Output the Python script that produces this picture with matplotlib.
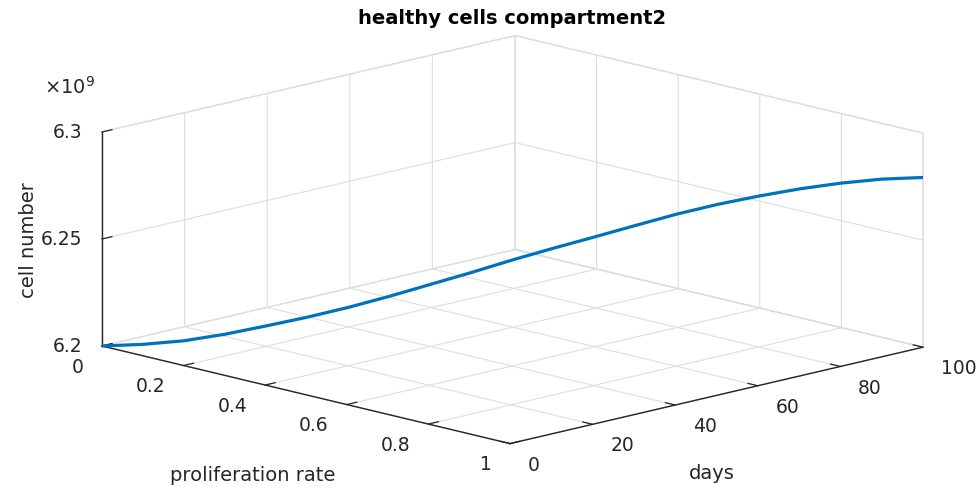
import numpy as np
import matplotlib
matplotlib.use('Agg')
import matplotlib.pyplot as plt
from matplotlib.ticker import FuncFormatter, FixedLocator
from matplotlib.transforms import offset_copy
from mpl_toolkits.mplot3d import proj3d

# ---- data ----
days = [0, 5, 10, 15, 20, 25, 30, 35, 40, 45, 50, 55, 60, 65, 70, 75, 80, 85, 90, 95, 100]
prolif = [0.0, 0.05, 0.1, 0.15, 0.2, 0.25, 0.3, 0.35, 0.4, 0.45, 0.5,
          0.55, 0.6, 0.65, 0.7, 0.75, 0.8, 0.85, 0.9, 0.95, 1.0]
cells = [6.2000e9, 6.2008e9, 6.2025e9, 6.2056e9, 6.2095e9, 6.2136e9, 6.2182e9,
         6.2234e9, 6.2290e9, 6.2346e9, 6.2405e9, 6.2460e9, 6.2513e9, 6.2567e9,
         6.2620e9, 6.2666e9, 6.2705e9, 6.2739e9, 6.2766e9, 6.2785e9, 6.2793e9]

x_ticks = [0, 0.2, 0.4, 0.6, 0.8, 1]
y_ticks = [0, 20, 40, 60, 80, 100]
z_ticks = [6.2e9, 6.25e9, 6.3e9]
x_lim = (0, 1)
y_lim = (0, 100)
z_lim = (6.2e9, 6.3e9)

title = 'healthy cells compartment2'
xlabel = 'proliferation rate'
ylabel = 'days'
zlabel = 'cell number'

# ---- style ----
W, H = 979, 489
AX_COL = '#262626'
GRID_COL = '#dedede'
LINE_COL = '#0072BD'
plt.rcParams['font.family'] = ['DejaVu Sans']
plt.rcParams['grid.color'] = GRID_COL
plt.rcParams['grid.linewidth'] = 0.8

fig = plt.figure(figsize=(W / 100, H / 100), dpi=100)
ax = fig.add_axes([0, -0.5, 1, 2], projection='3d', proj_type='ortho')
elev = np.degrees(np.arcsin(194 / 821))
AZIM = -44.65
ax.view_init(elev=elev, azim=AZIM)
aspect = (1, 1, 0.3794)
ax.set_box_aspect(aspect)
ax.set_xlim(*x_lim)
ax.set_ylim(*y_lim)
ax.set_zlim(*z_lim)

ax.plot(prolif, days, cells, color=LINE_COL, linewidth=2.3,
        solid_capstyle='butt', solid_joinstyle='round')

ax.xaxis.set_major_locator(FixedLocator(x_ticks))
ax.yaxis.set_major_locator(FixedLocator(y_ticks))
ax.zaxis.set_major_locator(FixedLocator(z_ticks))
ax.xaxis.set_major_formatter(FuncFormatter(lambda v, _: f'{v:g}'))
ax.yaxis.set_major_formatter(FuncFormatter(lambda v, _: f'{v:g}'))
ax.zaxis.set_major_formatter(FuncFormatter(lambda v, _: f'{v / 1e9:g}'))

for axis in (ax.xaxis, ax.yaxis, ax.zaxis):
    axis.set_pane_color((1, 1, 1, 1))
    axis.pane.set_edgecolor(GRID_COL)
    axis.line.set_color(AX_COL)
    axis.line.set_linewidth(1.0)
    axis._axinfo['grid']['color'] = GRID_COL
    axis._axinfo['grid']['linewidth'] = 0.8
    axis._axinfo['tick']['inward_factor'] = 0.0
    axis._axinfo['tick']['outward_factor'] = 0.3
    axis._axinfo['tick']['linewidth'] = {True: 0.9, False: 0.5}
    axis._axinfo['tick']['color'] = AX_COL
ax.tick_params(axis='x', colors=AX_COL, labelsize=13.5, pad=8)
ax.tick_params(axis='y', colors=AX_COL, labelsize=13.5, pad=8)
ax.tick_params(axis='z', colors=AX_COL, labelsize=13.5, pad=0.8)
ax.zaxis.get_offset_text().set_visible(False)


def corners():
    fig.canvas.draw()
    M = ax.get_proj()
    pts = [(x_lim[0], y_lim[0], z_lim[0]), (x_lim[1], y_lim[1], z_lim[0]),
           (x_lim[1], y_lim[0], z_lim[0]), (x_lim[0], y_lim[0], z_lim[1])]
    out = []
    for p in pts:
        xs, ys, _ = proj3d.proj_transform(*p, M)
        out.append(ax.transData.transform((xs, ys)))
    return np.array(out)


def zaxis_x():
    fig.canvas.draw()
    xd = np.asarray(ax.zaxis.line.get_xdata(), float)
    yd = np.asarray(ax.zaxis.line.get_ydata(), float)
    return ax.transData.transform(np.column_stack([xd, yd]))[:, 0].mean()


# calibrate layout to the reference box: left floor corner (102,347), right floor (923,347)
c = corners()
s = (923 - 102) / (c[1, 0] - c[0, 0])
ax.set_box_aspect(aspect, zoom=s)
c = corners()

# put the z axis on the left vertical edge
placed = False
for zpos in ['default', 'lower', 'upper']:
    try:
        ax.zaxis.set_ticks_position(zpos)
        ax.zaxis.set_label_position(zpos)
    except Exception:
        continue
    if abs(zaxis_x() - c[0, 0]) < 10:
        placed = True
        break
if not placed:
    ax.zaxis.set_ticks_position('default')
    ax.zaxis.set_label_position('default')
    ax.view_init(elev=elev, azim=-45.3)
    c = corners()
    s2 = (923 - 102) / (c[1, 0] - c[0, 0])
    ax.set_box_aspect(aspect, zoom=s * s2)
    c = corners()

pos = ax.get_position(original=True)
dx = (102 - c[0, 0]) / W
dy = ((H - 347) - c[0, 1]) / H
ax.set_position([pos.x0 + dx, pos.y0 + dy, pos.width, pos.height])
fig.canvas.draw()

plt.setp(ax.get_xticklabels(), ha='right', va='center')
plt.setp(ax.get_yticklabels(), ha='left', va='center')
plt.setp(ax.get_zticklabels(), ha='right', va='center')


# shift the floor tick labels a little downwards (3D axes reset label transforms
# every time ticks are fetched, so re-apply the offset there)
def _with_label_offset(axis, dy_px):
    orig = axis.get_major_ticks

    def get_major_ticks(numticks=None):
        ticks = orig(numticks)
        for t in ticks:
            t.label1.set_transform(offset_copy(ax.transData, fig=fig, x=0, y=dy_px,
                                               units='dots'))
        return ticks
    axis.get_major_ticks = get_major_ticks


_with_label_offset(ax.xaxis, -6.5)
_with_label_offset(ax.yaxis, -7.0)

# texts
fig.text(512 / W, 1 - 18 / H, title, ha='center', va='center', fontsize=14,
         fontweight='bold', color='black')
fig.text(28 / W, 1 - 240 / H, zlabel, ha='center', va='center', rotation=90,
         fontsize=14, color=AX_COL)
fig.text(253 / W, 1 - 476 / H, xlabel, ha='center', va='center', fontsize=14, color=AX_COL)
fig.text(712 / W, 1 - 474 / H, ylabel, ha='center', va='center', fontsize=14, color=AX_COL)
fig.text(44 / W, 1 - 87 / H, r'$\mathregular{\times10^{9}}$', ha='left', va='center',
         fontsize=14, color=AX_COL)

fig.savefig('out.png', dpi=100)
